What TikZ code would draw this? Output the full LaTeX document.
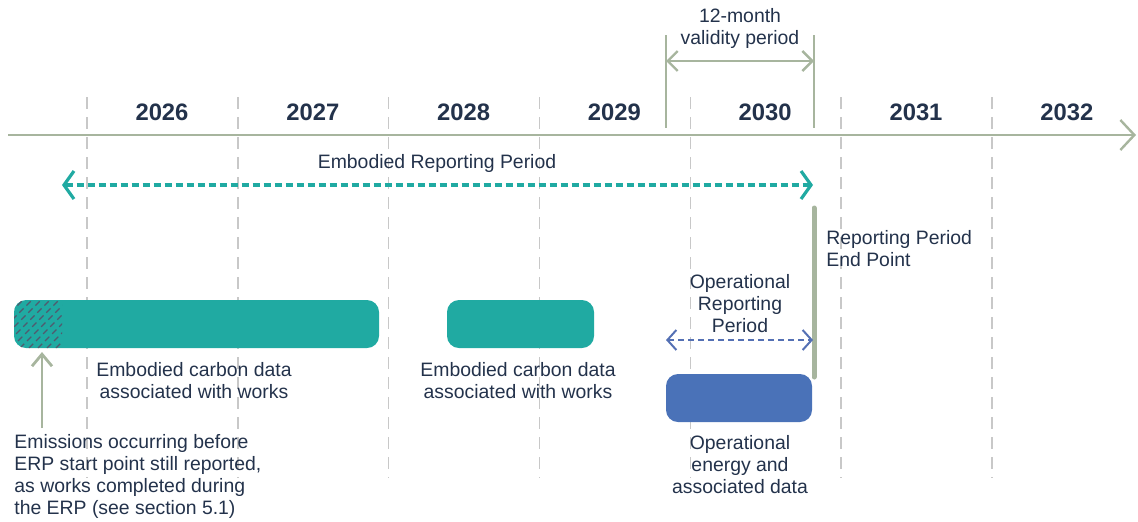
\documentclass[tikz,border=0pt]{standalone}
\usepackage{fontspec}
\setmainfont{Liberation Sans}
\usetikzlibrary{arrows.meta}
\definecolor{axisgreen}{RGB}{167,181,158}
\definecolor{sepgray}{RGB}{200,200,200}
\definecolor{tealbar}{RGB}{32,170,162}
\definecolor{bluebar}{RGB}{74,114,184}
\definecolor{bluearrow}{RGB}{84,112,180}
\definecolor{navy}{RGB}{35,50,75}
\definecolor{hatchgray}{RGB}{80,90,110}
\begin{document}
\begin{tikzpicture}[x=0.5pt,y=-0.5pt,
		txt/.style={text=navy, font=\fontsize{9.7}{11}\selectfont, align=center, inner sep=0pt},
		yearlbl/.style={text=navy, font=\fontsize{11.9}{14}\selectfont\bfseries, inner sep=0pt},
		bar/.style={rounded corners=6pt, minimum height=24pt, inner sep=0pt}]
		\useasboundingbox (0,0) rectangle (1138,521);
		
		%year separators and labels
		\foreach \yr [count=\i] in {2026, 2027, ..., 2032}{
			\draw[sepgray, line width=0.7pt, dash pattern=on 6pt off 4pt] (87+150.8*\i-150.8, 97)--(87+150.8*\i-150.8, 478);
			\node[yearlbl] (yr\yr) at (162+150.8*\i-150.8, 112){\yr};
		}
		
		%time axis
		\coordinate (axL) at (8,135);
		\coordinate (axR) at (1136,135);
		\draw[axisgreen, line width=1.2pt, -{Straight Barb[length=7pt,width=15pt]}] (axL) -- (axR);
		
		%12-month validity period
		\coordinate (valLtop) at (666,35);
		\coordinate (valLbot) at (666,128);
		\coordinate (valRtop) at (814,35);
		\coordinate (valRbot) at (814,128);
		\draw[axisgreen, line width=0.9pt] (valLtop) -- (valLbot);
		\draw[axisgreen, line width=0.9pt] (valRtop) -- (valRbot);
		\coordinate (valL) at (666,61);
		\coordinate (valR) at (814,61);
		\draw[axisgreen, line width=1.2pt, {Straight Barb[length=5pt,width=10pt]}-{Straight Barb[length=5pt,width=10pt]}] (valL) -- (valR);
		\node[txt] (validity) at (740,28){12-month\\validity period};
		
		%embodied reporting period
		\node[txt] (erp) at (437,163){Embodied Reporting Period};
		\coordinate (erpL) at (62,185);
		\coordinate (erpR) at (813,185);
		\draw[tealbar, line width=1.6pt, dash pattern=on 3.5pt off 2pt, {Straight Barb[length=5pt,width=14pt]}-{Straight Barb[length=5pt,width=14pt]}] (erpL) -- (erpR);
		
		%reporting period end point
		\coordinate (endTop) at (814,208);
		\coordinate (endBot) at (814,377);
		\draw[axisgreen, line width=2.5pt, line cap=round] (endTop) -- (endBot);
		\node[txt, align=left, anchor=west] (endlbl) at (826,248.5){Reporting Period\\End Point};
		
		%embodied carbon bars
		\node[bar, fill=tealbar, minimum width=182.5pt] (bar1) at (196.5,324){};
		\begin{scope}
			\clip[rounded corners=6pt] (14,300) rectangle (379,348);
			\clip (14,300) rectangle (62,348);
			\foreach \k in {0, 1, ..., 11}{
				\draw[hatchgray, line width=0.6pt, dash pattern=on 3pt off 2pt] (9*\k-34, 348)--(9*\k+14, 300);
			}
		\end{scope}
		\node[bar, fill=tealbar, minimum width=73.5pt] (bar2) at (520.5,324){};
		\node[txt] (bar1lbl) at (194,381){Embodied carbon data\\associated with works};
		\node[txt] (bar2lbl) at (518,381){Embodied carbon data\\associated with works};
		
		%operational reporting period
		\node[txt] (orp) at (740,304){Operational\\Reporting\\Period};
		\coordinate (orpL) at (666,340);
		\coordinate (orpR) at (813,340);
		\draw[bluearrow, line width=1pt, dash pattern=on 3pt off 2pt, {Straight Barb[length=4.5pt,width=10pt]}-{Straight Barb[length=4.5pt,width=10pt]}] (orpL) -- (orpR);
		\node[bar, fill=bluebar, minimum width=73pt] (bar3) at (739,398){};
		\node[txt] (bar3lbl) at (740,465){Operational\\energy and\\associated data};
		
		%emissions before ERP start
		\coordinate (emTop) at (42,352);
		\coordinate (emBot) at (42,428);
		\draw[axisgreen, line width=1.4pt, -{Straight Barb[length=6pt,width=10pt]}] (emBot) -- (emTop);
		\node[txt, align=left, anchor=west] (emlbl) at (14,476.5){Emissions occurring before\\ERP start point still reported,\\as works completed during\\the ERP (see section 5.1)};
\end{tikzpicture}
\end{document}
